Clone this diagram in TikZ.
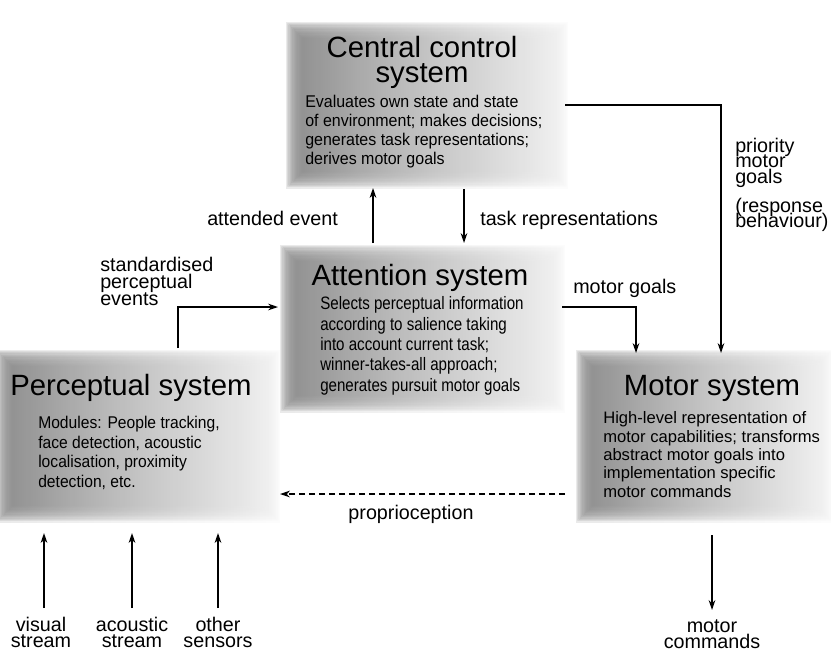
\documentclass[tikz,border=0pt]{standalone}
\usepackage{fontspec}
\setmainfont{Liberation Sans}
\newfontfamily\nA[FakeStretch=0.84]{Liberation Sans}
\newfontfamily\nB[FakeStretch=0.94]{Liberation Sans}
\newfontfamily\nC[FakeStretch=0.92]{Liberation Sans}
\usetikzlibrary{arrows.meta,calc,fit}
\pgfdeclarehorizontalshading{boxsh}{100bp}{color(0bp)=(black!66); color(40bp)=(black!32); color(82bp)=(white); color(100bp)=(white)}
\newcommand\softbox[1]{%
  \foreach \i in {0,...,13}{%
    \shade[boxshade] ($(#1.south west)+(\i*1.3,-\i*1.3)$) rectangle ($(#1.north east)+(-\i*1.3,\i*1.3)$);
  }}
\begin{document}
\lineskiplimit=-100pt
\lineskip=0pt
\begin{tikzpicture}[x=0.75pt,y=-0.75pt,
  boxshade/.style={shading=boxsh, opacity=0.19},
  area/.style={inner sep=0pt, outer sep=0pt},
  arr/.style={line width=1.1pt, -{Stealth[length=7.5pt,width=5pt]}},
  dasharr/.style={arr, dash pattern=on 4.5pt off 3pt},
  ttl/.style={inner sep=0pt, align=center, font=\fontsize{22pt}{18.75pt}\selectfont},
  lbl/.style={inner sep=0pt, align=left, font=\fontsize{14.8pt}{11.6pt}\selectfont},
  lblc/.style={inner sep=0pt, align=center, font=\fontsize{14.8pt}{11.6pt}\selectfont},
  bodyA/.style={inner sep=0pt, align=left, font=\nA\fontsize{13.5pt}{15.2pt}\selectfont},
  bodyB/.style={inner sep=0pt, align=left, font=\nB\fontsize{12.75pt}{14.25pt}\selectfont},
  bodyC/.style={inner sep=0pt, align=left, font=\nC\fontsize{12.75pt}{14.6pt}\selectfont},
  bodyD/.style={inner sep=0pt, align=left, font=\fontsize{12.45pt}{13.7pt}\selectfont}
]
\useasboundingbox (0,0) rectangle (831,653);

% box areas
\node[area, fit={(286,22) (568,188)}] (cc) {};
\node[area, fit={(280,245) (565,412)}] (att) {};
\node[area, fit={(-4,350) (280,522)}] (per) {};
\node[area, fit={(576,350) (833,522)}] (mot) {};

\softbox{cc}
\softbox{att}
\softbox{per}
\softbox{mot}

% titles (base = baseline of last line)
\node[ttl, anchor=base] (cct) at (422,82) {Central control\\system};
\node[ttl, anchor=base] (attt) at (420,285) {Attention system};
\node[ttl, anchor=base west] (pert) at (10,395) {Perceptual system};
\node[ttl, anchor=base] (mott) at (712,395) {Motor system};

% bodies
\node[bodyB, anchor=base west] (ccb) at (305,164) {Evaluates own state and state\\of environment; makes decisions;\\generates task representations;\\derives motor goals};
\node[bodyA, anchor=base west] (attb) at (320,391) {Selects perceptual information\\according to salience taking\\into account current task;\\winner-takes-all approach;\\generates pursuit motor goals};
\node[bodyC, anchor=base west] (perb) at (38,487) {Modules: People tracking,\\face detection, acoustic\\localisation, proximity\\detection, etc.};
\node[bodyD, anchor=base west] (motb) at (603,497) {High-level representation of\\motor capabilities; transforms\\abstract motor goals into\\implementation specific\\motor commands};

% labels
\node[lbl, anchor=base west] (ae) at (207,225) {attended event};
\node[lbl, anchor=base west] (tr) at (480,225) {task representations};
\node[lbl, anchor=base west, font=\fontsize{14.8pt}{12.4pt}\selectfont] (spe) at (100,305) {standardised\\perceptual\\events};
\node[lbl, anchor=base west] (pmg) at (735,183) {priority\\motor\\goals};
\node[lbl, anchor=base west, font=\fontsize{14.8pt}{11.25pt}\selectfont] (rb) at (735,227) {(response\\behaviour)};
\node[lbl, anchor=base west] (mg) at (573,293) {motor goals};
\node[lbl, anchor=base] (pp) at (411,519) {proprioception};
\node[lblc, anchor=base] (vs) at (41,647) {visual\\stream};
\node[lblc, anchor=base] (as) at (132,647) {acoustic\\stream};
\node[lblc, anchor=base] (os) at (218,647) {other\\sensors};
\node[lblc, anchor=base] (mc) at (712,648) {motor\\commands};

% connectors
\draw[arr] ($(att.north west)+(93,-2)$) -- ($(cc.south west)+(87,0)$);
\draw[arr] ($(cc.south west)+(178,1)$) -- ($(att.north west)+(184,-2)$);
\draw[arr] ($(per.north west)+(182,-2)$) |- ($(att.west)+(-2,-21.5)$);
\draw[arr] ($(cc.east)+(-3,-0)$) -| ($(mot.north west)+(145,3)$);
\draw[arr] ($(att.east)+(-3,-21.5)$) -| ($(mot.north west)+(60,3)$);
\draw[dasharr] ($(mot.south west)+(-11,-28)$) -- ($(per.south east)+(0,-28)$);
\draw[arr] ($(mot.south west)+(136,13)$) -- ($(mot.south west)+(136,88)$);
\draw[arr] ($(per.south west)+(48,86)$) -- ($(per.south west)+(48,11)$);
\draw[arr] ($(per.south west)+(136,86)$) -- ($(per.south west)+(136,11)$);
\draw[arr] ($(per.south west)+(222,86)$) -- ($(per.south west)+(222,11)$);
\end{tikzpicture}
\end{document}
